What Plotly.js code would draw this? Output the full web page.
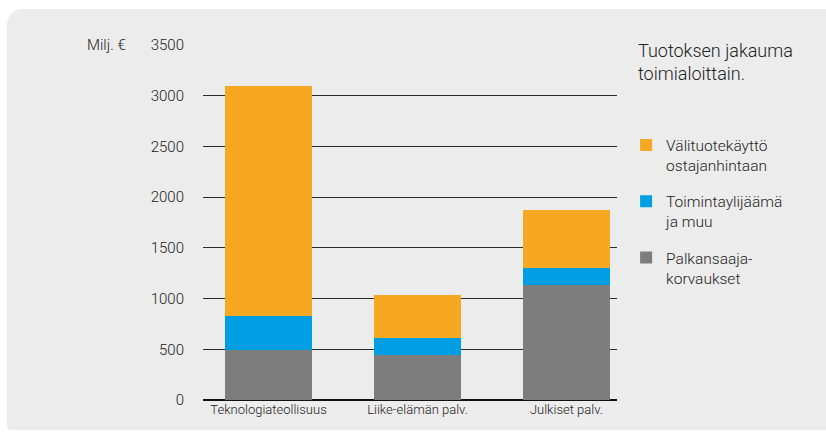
<!DOCTYPE html>
<html>
<head>
<meta charset="utf-8">
<script src="https://cdn.plot.ly/plotly-3.0.1.min.js"></script>
<style>
html,body{margin:0;padding:0;background:#fff;width:826px;height:432px;overflow:hidden;}
#bg{position:absolute;left:7px;top:9px;width:830px;height:421px;background:#ececec;border-top-left-radius:16px;border-bottom-left-radius:4px;}
#chart{position:absolute;left:0;top:0;width:826px;height:432px;}
</style>
</head>
<body>
<div id="bg"></div>
<div id="chart"></div>
<script>
const categories = ["Teknologiateollisuus", "Liike-elämän palv.", "Julkiset palv."];
const palkansaajakorvaukset = [490, 440, 1130];
const toimintaylijaama = [340, 170, 170];
const valituotekaytto = [2270, 425, 570];
const yTicks = [0, 500, 1000, 1500, 2000, 2500, 3000, 3500];

const FONT = "Roboto, sans-serif";

const traces = [
  {type:'bar', x:categories, y:palkansaajakorvaukset, name:'Palkansaaja-<br>korvaukset', legendgroup:'a', legendrank:3, marker:{color:'#7d7d7d'}, hoverinfo:'none'},
  {type:'bar', x:categories, y:toimintaylijaama, name:'Toimintaylijäämä<br>ja muu', legendgroup:'b', legendrank:2, marker:{color:'#009fe3'}, hoverinfo:'none'},
  {type:'bar', x:categories, y:valituotekaytto, name:'Välituotekäyttö<br>ostajanhintaan', legendgroup:'c', legendrank:1, marker:{color:'#f7a823'}, hoverinfo:'none'}
];

const layout = {
  width:826, height:432,
  paper_bgcolor:'rgba(0,0,0,0)', plot_bgcolor:'rgba(0,0,0,0)',
  margin:{l:203, r:209, t:45, b:32},
  barmode:'stack', bargap:0.42,
  font:{family:FONT, color:'#222', size:14, weight:300},
  xaxis:{range:[-0.44, 2.34], showgrid:false, zeroline:false, showline:false, ticks:'',
         tickfont:{size:13, family:FONT, color:'#222', weight:300}, fixedrange:true},
  yaxis:{range:[0, 3500], tickvals:yTicks, ticktext:yTicks.map(String), showgrid:true, gridcolor:'#2a2a2a', gridwidth:1,
         zeroline:true, zerolinecolor:'#111', zerolinewidth:1.5, showline:false, ticks:'', ticklabelstandoff:18,
         tickfont:{size:15, family:FONT, color:'#222', weight:300}, fixedrange:true},
  showlegend:true,
  legend:{x:1.022, xanchor:'left', y:0.765, yanchor:'top', traceorder:'grouped', bgcolor:'rgba(0,0,0,0)',
          font:{size:15.5, family:FONT, color:'#222', weight:300}, itemwidth:30, tracegroupgap:13, valign:'top'},
  annotations:[
    {xref:'paper', yref:'paper', x:1.045, y:1.02, xanchor:'left', yanchor:'top', align:'left', showarrow:false,
     text:'Tuotoksen jakauma<br>toimialoittain.', font:{size:18, family:FONT, color:'#222', weight:300}},
    {xref:'paper', yref:'paper', x:-0.18, y:1.0, xanchor:'right', yanchor:'middle', showarrow:false,
     text:'Milj. €', font:{size:15, family:FONT, color:'#222', weight:300}}
  ]
};

Plotly.newPlot('chart', traces, layout, {displayModeBar:false, staticPlot:true});
</script>
</body>
</html>
